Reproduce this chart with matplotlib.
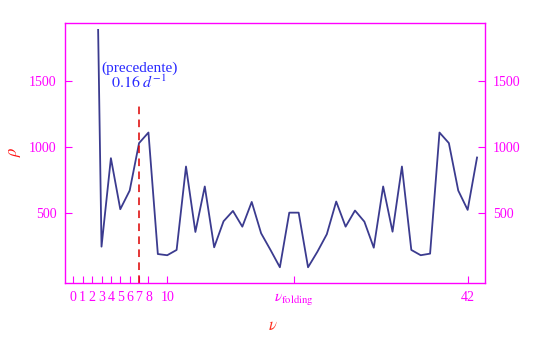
import matplotlib
matplotlib.use("Agg")
import matplotlib.pyplot as plt
from matplotlib.patches import Rectangle

plt.rcParams['font.family'] = ['Liberation Serif', 'DejaVu Serif']
plt.rcParams['mathtext.fontset'] = 'stix'

# spectrum values
nu = list(range(2, 44))
rho = [4800, 245, 914, 528, 669, 1028, 1108, 189, 180, 220, 851, 356, 700, 240,
       437, 515, 396, 583, 346, 220, 89, 502, 502, 89, 207, 339, 586, 396, 518,
       434, 237, 700, 358, 851, 220, 180, 192, 1108, 1028, 669, 523, 919]

x_ticks = [0, 1, 2, 3, 4, 5, 6, 7, 8, 10, 23.5, 42]
x_tick_labels = ['0', '1', '2', '3', '4', '5', '6', '7', '8', '10',
                 r'$\nu_{\rm folding}$', '42']
y_ticks = [500, 1000, 1500]
nu_prev = 7
dash_top = 1310
plot_top = 1890

frame = '#ff00ff'
line_col = '#3b3b8f'

fig = plt.figure(figsize=(5.36, 3.39), dpi=100)
ax = fig.add_axes([0.1216, 0.1652, 0.904 - 0.1216, 0.9336 - 0.1652])

ln, = ax.plot(nu, rho, color=line_col, linewidth=1.3)
ln.set_clip_path(Rectangle((-1, -100), 46, plot_top + 100, transform=ax.transData))

ax.plot([nu_prev, nu_prev], [-30, dash_top], color='#dd0000', linewidth=1.1,
        dashes=(5, 3.5))

ax.text(nu_prev + 0.05, 1591, '(precedente)', color='#2a2aff', fontsize=11,
        ha='center', va='center')
ax.text(nu_prev + 0.0, 1480, r'$0.16\ d^{-1}$', color='#2a2aff', fontsize=11.5,
        ha='center', va='center')

ax.set_xlim(-0.87, 43.8)
ax.set_ylim(-30, 1940)

ax.set_xticks(x_ticks)
ax.set_xticklabels(x_tick_labels)
ax.set_yticks(y_ticks)

for s in ax.spines.values():
    s.set_color(frame)
    s.set_linewidth(1.0)

ax.tick_params(axis='x', direction='in', length=5, color=frame, labelcolor=frame,
               labelsize=10, pad=6)
ax.tick_params(axis='y', direction='in', length=5, color=frame, labelcolor=frame,
               labelsize=10, pad=6, left=True, right=True,
               labelleft=True, labelright=True)
for lab in ax.get_xticklabels():
    if 'folding' in lab.get_text():
        lab.set_fontsize(11)

ax.set_xlabel(r'$\nu$', color='#ff3020', fontsize=12, va='center')
ax.xaxis.set_label_coords(0.495, -0.165)
ax.set_ylabel(r'$\rho$', color='#ff1010', fontsize=12, va='center')
ax.yaxis.set_label_coords(-0.12, 0.503)

fig.savefig('out.png', dpi=100)
